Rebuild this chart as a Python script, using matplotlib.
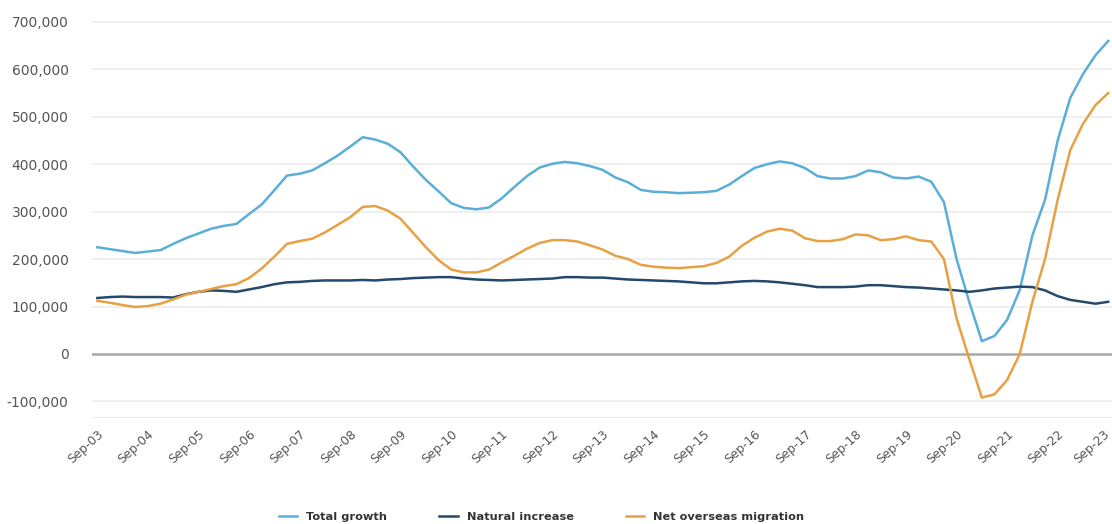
import numpy as np
import matplotlib
matplotlib.use("Agg")
import matplotlib.pyplot as plt
import matplotlib.transforms as mtransforms
from matplotlib.ticker import FuncFormatter

# quarterly, Sep-03 .. Sep-23
years = list(range(3, 24))
tick_labels = [f"Sep-{y:02d}" for y in years]

total_growth = [
    225, 221, 217, 213, 216, 219, 232, 244, 254, 264,
    270, 274, 295, 315, 345, 376, 380, 387, 402, 418,
    437, 457, 452, 443, 425, 395, 367, 343, 318, 308,
    305, 309, 328, 352, 375, 393, 401, 405, 402, 396,
    388, 372, 362, 346, 342, 341, 339, 340, 341, 344,
    357, 375, 392, 400, 406, 402, 392, 375, 370, 370,
    375, 387, 383, 372, 370, 374, 363, 320, 200, 110,
    27, 38, 72, 135, 250, 325, 450, 540, 590, 630,
    660,
]
natural_increase = [
    118, 120, 121, 120, 120, 120, 119, 126, 131, 134,
    133, 131, 136, 141, 147, 151, 152, 154, 155, 155,
    155, 156, 155, 157, 158, 160, 161, 162, 162, 159,
    157, 156, 155, 156, 157, 158, 159, 162, 162, 161,
    161, 159, 157, 156, 155, 154, 153, 151, 149, 149,
    151, 153, 154, 153, 151, 148, 145, 141, 141, 141,
    142, 145, 145, 143, 141, 140, 138, 136, 134, 131,
    134, 138, 140, 142, 141, 134, 122, 114, 110, 106,
    110,
]
net_overseas = [
    112, 108, 103, 99, 101, 106, 115, 125, 131, 137,
    143, 147, 160, 180, 205, 232, 238, 243, 256, 272,
    288, 310, 312, 302, 285, 255, 225, 198, 178, 172,
    172, 178, 193, 207, 222, 234, 240, 240, 237, 229,
    220, 207, 200, 188, 184, 182, 181, 183, 185, 192,
    205, 228, 245, 258, 264, 260, 244, 238, 238, 242,
    252, 250, 240, 242, 248, 240, 237, 200, 75, -10,
    -92, -85, -55, 0, 110, 200, 325, 430, 485, 525,
    550,
]

tg = np.array(total_growth) * 1000
ni = np.array(natural_increase) * 1000
nom = np.array(net_overseas) * 1000
x = np.arange(len(tg))

fig = plt.figure(figsize=(11.12, 5.24), dpi=100)
ax = fig.add_axes([0.083, 0.2023, 0.917, 0.7576])

for v in range(-100000, 800000, 100000):
    if v == 0:
        continue
    ax.axhline(v, color="#ececec", lw=1.2, zorder=0)
ax.axhline(-135000, color="#e6e6e6", lw=1.2, zorder=0)
ax.axhline(0, color="#a8a8a8", lw=1.8, zorder=1)

ax.plot(x, tg, color="#5aaed8", lw=1.8, label="Total growth", zorder=3)
ax.plot(x, ni, color="#24496a", lw=1.8, label="Natural increase", zorder=3)
ax.plot(x, nom, color="#e8a045", lw=1.8, label="Net overseas migration", zorder=3)

ax.set_xlim(-0.4, 80.3)
ax.set_ylim(-135000, 702000)
ax.set_yticks(range(-100000, 800000, 100000))
ax.yaxis.set_major_formatter(FuncFormatter(lambda v, p: f"{int(v):,}"))
ax.set_xticks(x[::4])
ax.set_xticklabels(tick_labels, rotation=42, ha="right", rotation_mode="anchor")

for s in ax.spines.values():
    s.set_visible(False)
ax.tick_params(axis="both", length=0, colors="#555555")
ax.tick_params(axis="y", labelsize=10, pad=17)
ax.tick_params(axis="x", labelsize=8.8, pad=7)

# nudge last label so it stays inside the canvas
last = ax.get_xticklabels()[-1]
last.set_transform(last.get_transform() +
                   mtransforms.ScaledTranslation(-5 / 100, 0, fig.dpi_scale_trans))

fig.legend(loc="center", bbox_to_anchor=(0.487, 0.013), ncol=3, frameon=False,
           handlelength=1.6, columnspacing=4.6,
           prop={"weight": "bold", "size": 8.2}, labelcolor="#333333")

fig.savefig("out.png", dpi=100)
